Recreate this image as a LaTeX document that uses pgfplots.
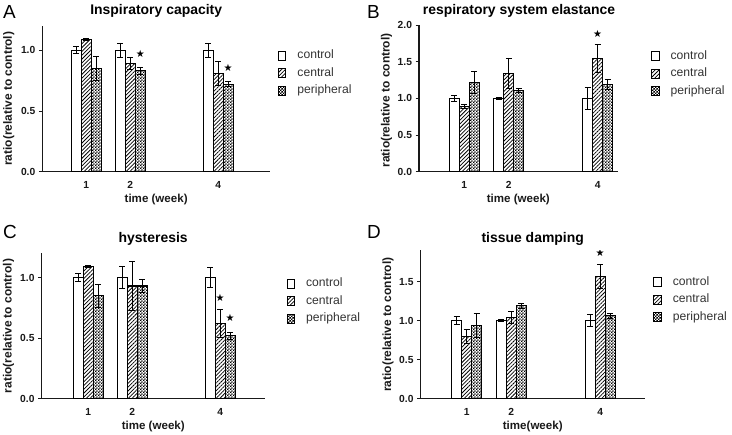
\documentclass[border=0pt]{standalone}
\usepackage{fontspec}
\setmainfont{Liberation Sans}
\newfontfamily\symfont{DejaVu Sans}
\usepackage{pgfplots}
\pgfplotsset{compat=1.18}
\usetikzlibrary{patterns,patterns.meta}

\pgfdeclarepatternformonly{fincheck}{\pgfpointorigin}{\pgfqpoint{2.8bp}{2.8bp}}{\pgfqpoint{2.8bp}{2.8bp}}{%
  \pgfpathrectangle{\pgfpointorigin}{\pgfqpoint{1.4bp}{1.4bp}}%
  \pgfpathrectangle{\pgfqpoint{1.4bp}{1.4bp}}{\pgfqpoint{1.4bp}{1.4bp}}%
  \pgfusepath{fill}}

\pgfplotsset{
  panel/.style={
    scale only axis, ybar=0pt, bar width=10bp,
    axis x line*=bottom, axis y line*=left,
    axis line style={line width=1.1bp,-,black!90},
    xtick={1,2,4}, xticklabels={1,2,4},
    x tick style={draw=none},
    y tick style={line width=0.9bp, black!90},
    tick align=outside, major tick length=3.5bp,
    ymin=0,
    /pgf/number format/assume math mode=true,
    yticklabel={\pgfmathprintnumber[fixed,fixed zerofill,precision=1]{\tick}},
    ticklabel style={font=\bfseries\fontsize{10.3}{11}\selectfont, text=black!90},
    xticklabel style={anchor=base, yshift=-13bp},
    xlabel={time (week)},
    xlabel style={font=\bfseries\fontsize{11.6}{12}\selectfont, text=black!90,
      at={(axis description cs:0.5,0)}, anchor=base, yshift=-31bp},
    legend cell align=left,
    legend style={draw=none, fill=none, inner sep=0pt, outer sep=0pt, anchor=north west,
      row sep=5.5bp, column sep=0pt,
      nodes={inner sep=0pt, text height=9bp, text depth=3bp,
        font=\fontsize{12.2}{12}\selectfont, text=black!80}},
    legend image code/.code={\draw[##1, line width=0.9bp] (0bp,-4.5bp) rectangle (7.5bp,4.5bp);
      \path[draw=none,fill=none] (0bp,0bp) -- (19bp,0bp);},
    error bars/y dir=both, error bars/y explicit,
    error bars/error bar style={line width=0.9bp, black},
    error bars/error mark options={rotate=90, mark size=3bp, line width=0.9bp, black},
  },
  ctrl/.style={draw=black, line width=1.1bp, fill=white},
  cent/.style={draw=black, line width=1.1bp, pattern={Lines[angle=45,distance=2.7bp,line width=0.75bp]}},
  peri/.style={draw=black, line width=1.1bp, pattern=fincheck},
}
\newcommand{\sigstar}{\symfont\fontsize{10}{10}\selectfont ★}

\begin{document}
\begin{tikzpicture}[x=1bp,y=1bp]
\useasboundingbox (0,0) rectangle (732,435);

% panel letters and titles
\node[anchor=base west, inner sep=0, font=\fontsize{19}{19}\selectfont] at (3,416) {A};
\node[anchor=base west, inner sep=0, font=\fontsize{19}{19}\selectfont] at (367,416) {B};
\node[anchor=base west, inner sep=0, font=\fontsize{19}{19}\selectfont] at (3,196.7) {C};
\node[anchor=base west, inner sep=0, font=\fontsize{19}{19}\selectfont] at (367,196.7) {D};
\node[anchor=base, inner sep=0, font=\bfseries\fontsize{14}{14}\selectfont] at (156.2,420) {Inspiratory capacity};
\node[anchor=base, inner sep=0, font=\bfseries\fontsize{14}{14}\selectfont] at (519,420) {respiratory system elastance};
\node[anchor=base, inner sep=0, font=\bfseries\fontsize{14}{14}\selectfont] at (153.2,192) {hysteresis};
\node[anchor=base, inner sep=0, font=\bfseries\fontsize{14}{14}\selectfont] at (532.7,192) {tissue damping};

% y axis labels
\tikzset{ylab/.style={rotate=90, anchor=center, inner sep=0, font=\bfseries\fontsize{12}{12}\selectfont, text=black!90}}
\node[ylab] at (8.8,336.2) {ratio(relative to control)};
\node[ylab] at (386.5,334.5) {ratio(relative to control)};
\node[ylab] at (8.5,109) {ratio(relative to control)};
\node[ylab] at (388,110.4) {ratio(relative to control)};

% ---------- A ----------
\begin{axis}[panel, at={(42.3bp,263.3bp)}, anchor=south west,
  width=227.7bp, height=145.7bp, xmin=0, xmax=5.18, ymax=1.2, ytick={0,0.5,1},
  legend style={at={(axis description cs:1.035,0.836)}}]
\addplot[ctrl] coordinates {(1,1.00) +- (0,0.03) (2,1.00) +- (0,0.06) (4,1.00) +- (0,0.06)};
\addplot[cent] coordinates {(1,1.09) +- (0,0.01) (2,0.89) +- (0,0.05) (4,0.81) +- (0,0.10)};
\addplot[peri] coordinates {(1,0.85) +- (0,0.095) (2,0.83) +- (0,0.03) (4,0.72) +- (0,0.02)};
\legend{control,central,peripheral}
\node[inner sep=0, xshift=10bp] at (axis cs:2,0.97) {\sigstar};
\node[inner sep=0, xshift=10bp] at (axis cs:4,0.857) {\sigstar};
\end{axis}

% ---------- B ----------
\begin{axis}[panel, at={(419bp,263.3bp)}, anchor=south west,
  width=198.7bp, height=146.7bp, xmin=-0.02, xmax=4.45, ymax=2.0, ytick={0,0.5,1,1.5,2},
  legend style={at={(axis description cs:1.168,0.828)}}]
\addplot[ctrl] coordinates {(1,1.00) +- (0,0.04) (2,1.00) +- (0,0.01) (4,1.00) +- (0,0.15)};
\addplot[cent] coordinates {(1,0.89) +- (0,0.03) (2,1.34) +- (0,0.21) (4,1.54) +- (0,0.19)};
\addplot[peri] coordinates {(1,1.21) +- (0,0.15) (2,1.11) +- (0,0.03) (4,1.19) +- (0,0.07)};
\legend{control,central,peripheral}
\node[inner sep=0] at (axis cs:4,1.88) {\sigstar};
\end{axis}

% ---------- C ----------
\begin{axis}[panel, at={(41.5bp,36.3bp)}, anchor=south west,
  width=223.5bp, height=145.4bp, xmin=-0.066, xmax=5.02, ymax=1.2, ytick={0,0.5,1},
  legend style={at={(axis description cs:1.097,0.833)}}]
\addplot[ctrl] coordinates {(1,1.00) +- (0,0.03) (2,1.00) +- (0,0.09) (4,1.00) +- (0,0.085)};
\addplot[cent] coordinates {(1,1.09) +- (0,0.01) (2,0.93) +- (0,0.20) (4,0.62) +- (0,0.115)};
\addplot[peri] coordinates {(1,0.85) +- (0,0.095) (2,0.93) +- (0,0.05) (4,0.52) +- (0,0.03)};
\legend{control,central,peripheral}
\node[inner sep=0] at (axis cs:4,0.835) {\sigstar};
\node[inner sep=0, xshift=10bp] at (axis cs:4,0.67) {\sigstar};
\end{axis}

% ---------- D ----------
\begin{axis}[panel, at={(420.5bp,36.3bp)}, anchor=south west,
  width=224.5bp, height=148.2bp, xmin=-0.04, xmax=5.01, ymax=1.9, ytick={0,0.5,1,1.5},
  xlabel={time(week)},
  legend style={at={(axis description cs:1.037,0.826)}}]
\addplot[ctrl] coordinates {(1,1.00) +- (0,0.05) (2,1.00) +- (0,0.01) (4,1.00) +- (0,0.08)};
\addplot[cent] coordinates {(1,0.80) +- (0,0.09) (2,1.04) +- (0,0.08) (4,1.57) +- (0,0.155)};
\addplot[peri] coordinates {(1,0.94) +- (0,0.15) (2,1.19) +- (0,0.035) (4,1.065) +- (0,0.03)};
\legend{control,central,peripheral}
\node[inner sep=0] at (axis cs:4,1.87) {\sigstar};
\end{axis}
\end{tikzpicture}
\end{document}
